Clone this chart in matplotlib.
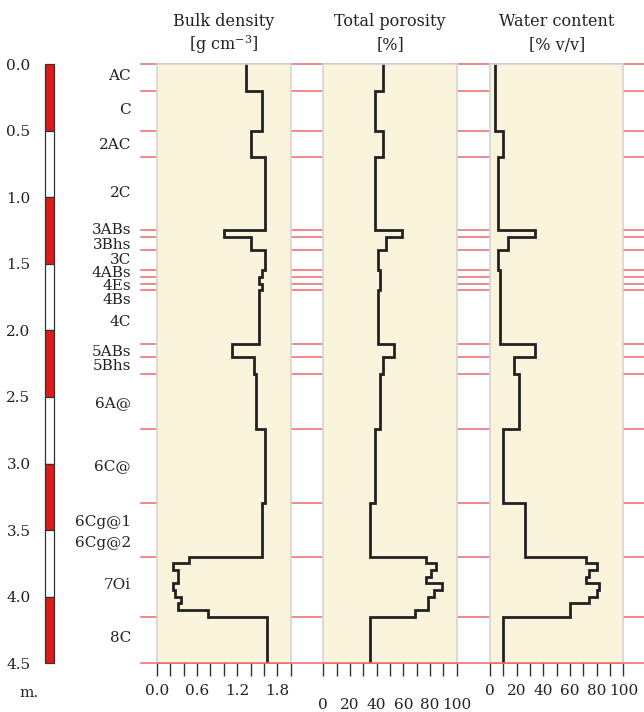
import matplotlib
matplotlib.use('Agg')
import matplotlib.pyplot as plt
import numpy as np

plt.rcParams['font.family'] = 'DejaVu Serif'
plt.rcParams['mathtext.fontset'] = 'dejavuserif'
plt.rcParams['mathtext.default'] = 'regular'

# sample tops (m); last value is the bottom of the profile
tops = [0.0, 0.20, 0.50, 0.70, 1.25, 1.30, 1.40, 1.55, 1.60, 1.65, 1.70, 2.10, 2.20, 2.33,
        2.74, 3.30, 3.70, 3.75, 3.80, 3.85, 3.90, 3.95, 4.00, 4.05, 4.10, 4.15, 4.50]
bulk = [1.33, 1.565, 1.40, 1.61, 1.005, 1.40, 1.61, 1.565, 1.525, 1.565, 1.525, 1.125, 1.445,
        1.48, 1.61, 1.565, 0.485, 0.24, 0.32, 0.32, 0.24, 0.275, 0.36, 0.32, 0.765, 1.645]
poro = [45, 38.75, 45, 38.75, 58.75, 47, 40.75, 42.5, 42.5, 42.5, 40.75, 53, 44.5,
        42.75, 39, 34.75, 76.75, 84.75, 81, 76.75, 89, 82.75, 78.75, 78.75, 68.75, 34.75]
water = [3.75, 3.75, 10, 5.75, 34, 13.75, 5.75, 7.75, 7.75, 7.75, 7.75, 34, 17.75,
         21.75, 9.75, 26, 72, 80, 74, 72, 82, 80, 74, 60, 60, 9.75]

boundaries = [0, 0.2, 0.5, 0.7, 1.25, 1.3, 1.4, 1.55, 1.6, 1.65, 1.7, 2.1, 2.2, 2.33,
              2.74, 3.3, 3.7, 4.15, 4.5]
horizons = ['AC', 'C', '2AC', '2C', '3ABs', '3Bhs', '3C', '4ABs', '4Es', '4Bs', '4C',
            '5ABs', '5Bhs', '6A@', '6C@', '6Cg@1', '6Cg@2', '7Oi', '8C']
horizon_pos = [0.09, 0.345, 0.61, 0.97, 1.245, 1.36, 1.47, 1.57, 1.67, 1.77, 1.935,
               2.16, 2.27, 2.545, 3.02, 3.44, 3.60, 3.91, 4.31]

W, H = 644, 712
fig = plt.figure(figsize=(W / 100, H / 100), dpi=100)

def rect(x0, x1, y0=64, y1=663.3):
    return [x0 / W, 1 - y1 / H, (x1 - x0) / W, (y1 - y0) / H]

red_line = '#e86a6a'
cream = '#faf4dc'
edge = '#d4d4d4'
ink = '#222222'

# red horizon lines behind the panels
bg = fig.add_axes(rect(141, 644))
bg.set_ylim(4.5, 0)
bg.set_xlim(0, 1)
bg.axis('off')
for b in boundaries:
    bg.axhline(b, color=red_line, lw=1.1, clip_on=False)

# horizon names
for name, d in zip(horizons, horizon_pos):
    bg.text(-0.02, d, name, ha='right', va='center', fontsize=11, color=ink,
            transform=bg.get_yaxis_transform(), clip_on=False)

# depth scale bar
sc = fig.add_axes(rect(44.4, 55.4))
for i in range(9):
    sc.bar(0, 0.5, bottom=i * 0.5, width=1, color='#dc1c1c' if i % 2 == 0 else 'white',
           edgecolor='#333333', lw=0.9, clip_on=False)
sc.set_xlim(-0.6, 0.6)
sc.set_ylim(4.5, 0)
sc.set_xticks([])
sc.set_yticks(np.arange(0, 4.51, 0.5))
sc.set_yticklabels(['%.1f' % v for v in np.arange(0, 4.51, 0.5)], fontsize=11, color=ink)
sc.tick_params(axis='y', length=0, pad=10)
for s in sc.spines.values():
    s.set_visible(False)
sc.text(-2.3, 4.72, 'm.', ha='center', va='center', fontsize=11, color=ink,
        transform=sc.transData, clip_on=False)

y_step = np.repeat(tops, 2)[1:-1]

panels = [
    (157, 290.7, bulk, (0, 2.0), np.arange(0, 2.01, 0.2), [0.0, 0.6, 1.2, 1.8],
     ['0.0', '0.6', '1.2', '1.8'], 'Bulk density', '[g cm$^{-3}$]', 0),
    (323.3, 456.7, poro, (0, 100), np.arange(0, 101, 10), [0, 20, 40, 60, 80, 100],
     ['0', '20', '40', '60', '80', '100'], 'Total porosity', '[%]', 10),
    (490, 623.3, water, (0, 100), np.arange(0, 101, 10), [0, 20, 40, 60, 80, 100],
     ['0', '20', '40', '60', '80', '100'], 'Water content', '[% v/v]', 0),
]

for x0, x1, vals, xlim, ticks, lab_pos, labs, t1, t2, pad in panels:
    ax = fig.add_axes(rect(x0, x1))
    ax.set_facecolor(cream)
    ax.plot(np.repeat(vals, 2), y_step, color=ink, lw=2, solid_joinstyle='miter')
    ax.set_xlim(*xlim)
    ax.set_ylim(4.5, 0)
    ax.set_yticks([])
    ax.set_xticks(ticks)
    ax.set_xticklabels(['' for _ in ticks])
    ax.tick_params(axis='x', length=9, width=1, color='#333333', direction='out')
    for p, l in zip(lab_pos, labs):
        ax.annotate(l, (p, 0), xycoords=('data', 'axes fraction'),
                    xytext=(0, -15 - pad), textcoords='offset points',
                    ha='center', va='top', fontsize=11, color=ink, annotation_clip=False)
    for k in ['left', 'right', 'top']:
        ax.spines[k].set_color(edge)
        ax.spines[k].set_linewidth(1.2)
    ax.spines['bottom'].set_color(red_line)
    ax.spines['bottom'].set_linewidth(1.1)
    xc = (x0 + x1) / 2 / W
    fig.text(xc, 1 - 21 / H, t1, ha='center', va='center', fontsize=11.5, color=ink)
    fig.text(xc, 1 - 45 / H, t2, ha='center', va='center', fontsize=11.5, color=ink)

fig.savefig('out.png', dpi=100)
